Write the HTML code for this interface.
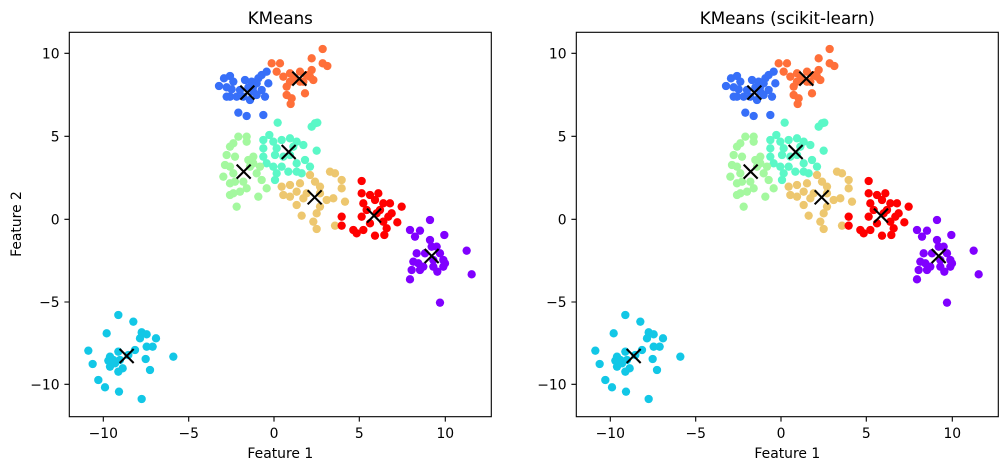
<!DOCTYPE html>
<html><head><meta charset="utf-8"><style>
html,body{margin:0;padding:0;background:#fff;}
svg{display:block;font-family:"DejaVu Sans","Liberation Sans",sans-serif;}
</style></head><body>
<svg width="1008" height="470" viewBox="0 0 1008 470" xmlns="http://www.w3.org/2000/svg">
<defs>
<g id="pts" transform="scale(0.33333)">
<g fill="#376ff8">
<circle r="12.5" cx="657" cy="258"/><circle r="12.5" cx="672" cy="235"/><circle r="12.5" cx="690" cy="228"/><circle r="12.5" cx="700" cy="245"/><circle r="12.5" cx="680" cy="262"/><circle r="12.5" cx="690" cy="290"/><circle r="12.5" cx="710" cy="290"/><circle r="12.5" cx="720" cy="270"/><circle r="12.5" cx="735" cy="240"/><circle r="12.5" cx="745" cy="262"/><circle r="12.5" cx="755" cy="245"/><circle r="12.5" cx="760" cy="275"/><circle r="12.5" cx="775" cy="235"/><circle r="12.5" cx="785" cy="225"/><circle r="12.5" cx="800" cy="215"/><circle r="12.5" cx="805" cy="250"/><circle r="12.5" cx="795" cy="290"/><circle r="12.5" cx="770" cy="285"/><circle r="12.5" cx="750" cy="300"/><circle r="12.5" cx="715" cy="338"/><circle r="12.5" cx="740" cy="348"/><circle r="12.5" cx="790" cy="345"/><circle r="12.5" cx="730" cy="290"/><circle r="12.5" cx="680" cy="290"/><circle r="12.5" cx="695" cy="268"/><circle r="12.5" cx="760" cy="260"/><circle r="12.5" cx="785" cy="270"/><circle r="12.5" cx="770" cy="250"/>
</g>
<g fill="#ff6f39">
<circle r="12.5" cx="815" cy="190"/><circle r="12.5" cx="840" cy="190"/><circle r="12.5" cx="830" cy="215"/><circle r="12.5" cx="850" cy="230"/><circle r="12.5" cx="870" cy="220"/><circle r="12.5" cx="880" cy="240"/><circle r="12.5" cx="900" cy="215"/><circle r="12.5" cx="920" cy="225"/><circle r="12.5" cx="935" cy="175"/><circle r="12.5" cx="968" cy="147"/><circle r="12.5" cx="968" cy="190"/><circle r="12.5" cx="982" cy="198"/><circle r="12.5" cx="935" cy="210"/><circle r="12.5" cx="940" cy="240"/><circle r="12.5" cx="915" cy="280"/><circle r="12.5" cx="860" cy="285"/><circle r="12.5" cx="872" cy="312"/><circle r="12.5" cx="875" cy="295"/><circle r="12.5" cx="900" cy="245"/><circle r="12.5" cx="860" cy="260"/><circle r="12.5" cx="870" cy="245"/><circle r="12.5" cx="910" cy="245"/><circle r="12.5" cx="930" cy="230"/><circle r="12.5" cx="885" cy="235"/>
</g>
<g fill="#5bf8c7">
<circle r="12.5" cx="833" cy="368"/><circle r="12.5" cx="790" cy="420"/><circle r="12.5" cx="808" cy="405"/><circle r="12.5" cx="820" cy="425"/><circle r="12.5" cx="830" cy="445"/><circle r="12.5" cx="845" cy="420"/><circle r="12.5" cx="870" cy="415"/><circle r="12.5" cx="890" cy="425"/><circle r="12.5" cx="910" cy="435"/><circle r="12.5" cx="880" cy="440"/><circle r="12.5" cx="870" cy="465"/><circle r="12.5" cx="850" cy="470"/><circle r="12.5" cx="825" cy="465"/><circle r="12.5" cx="790" cy="445"/><circle r="12.5" cx="790" cy="470"/><circle r="12.5" cx="800" cy="490"/><circle r="12.5" cx="820" cy="500"/><circle r="12.5" cx="830" cy="520"/><circle r="12.5" cx="825" cy="540"/><circle r="12.5" cx="845" cy="500"/><circle r="12.5" cx="865" cy="515"/><circle r="12.5" cx="890" cy="515"/><circle r="12.5" cx="905" cy="520"/><circle r="12.5" cx="930" cy="500"/><circle r="12.5" cx="915" cy="480"/><circle r="12.5" cx="890" cy="490"/><circle r="12.5" cx="950" cy="452"/><circle r="12.5" cx="935" cy="380"/><circle r="12.5" cx="945" cy="370"/><circle r="12.5" cx="952" cy="368"/>
</g>
<g fill="#a4f89f">
<circle r="12.5" cx="690" cy="440"/><circle r="12.5" cx="700" cy="430"/><circle r="12.5" cx="715" cy="410"/><circle r="12.5" cx="740" cy="410"/><circle r="12.5" cx="740" cy="425"/><circle r="12.5" cx="680" cy="465"/><circle r="12.5" cx="705" cy="470"/><circle r="12.5" cx="690" cy="500"/><circle r="12.5" cx="675" cy="495"/><circle r="12.5" cx="670" cy="530"/><circle r="12.5" cx="690" cy="550"/><circle r="12.5" cx="705" cy="545"/><circle r="12.5" cx="730" cy="545"/><circle r="12.5" cx="740" cy="565"/><circle r="12.5" cx="720" cy="575"/><circle r="12.5" cx="700" cy="580"/><circle r="12.5" cx="690" cy="585"/><circle r="12.5" cx="710" cy="620"/><circle r="12.5" cx="750" cy="500"/><circle r="12.5" cx="770" cy="520"/><circle r="12.5" cx="780" cy="500"/><circle r="12.5" cx="760" cy="490"/><circle r="12.5" cx="785" cy="540"/><circle r="12.5" cx="800" cy="565"/><circle r="12.5" cx="775" cy="590"/><circle r="12.5" cx="745" cy="480"/><circle r="12.5" cx="760" cy="470"/><circle r="12.5" cx="700" cy="520"/>
</g>
<g fill="#edc76f">
<circle r="12.5" cx="845" cy="560"/><circle r="12.5" cx="870" cy="555"/><circle r="12.5" cx="900" cy="550"/><circle r="12.5" cx="930" cy="525"/><circle r="12.5" cx="945" cy="545"/><circle r="12.5" cx="960" cy="560"/><circle r="12.5" cx="990" cy="515"/><circle r="12.5" cx="1005" cy="520"/><circle r="12.5" cx="1025" cy="540"/><circle r="12.5" cx="1025" cy="565"/><circle r="12.5" cx="1035" cy="605"/><circle r="12.5" cx="1000" cy="595"/><circle r="12.5" cx="980" cy="600"/><circle r="12.5" cx="960" cy="620"/><circle r="12.5" cx="950" cy="640"/><circle r="12.5" cx="940" cy="665"/><circle r="12.5" cx="950" cy="687"/><circle r="12.5" cx="1005" cy="677"/><circle r="12.5" cx="905" cy="647"/><circle r="12.5" cx="890" cy="615"/><circle r="12.5" cx="870" cy="590"/><circle r="12.5" cx="850" cy="585"/><circle r="12.5" cx="910" cy="595"/><circle r="12.5" cx="890" cy="575"/><circle r="12.5" cx="920" cy="580"/><circle r="12.5" cx="960" cy="580"/>
</g>
<g fill="#ff0000">
<circle r="12.5" cx="1085" cy="543"/><circle r="12.5" cx="1085" cy="580"/><circle r="12.5" cx="1110" cy="585"/><circle r="12.5" cx="1125" cy="600"/><circle r="12.5" cx="1135" cy="580"/><circle r="12.5" cx="1090" cy="610"/><circle r="12.5" cx="1085" cy="650"/><circle r="12.5" cx="1070" cy="700"/><circle r="12.5" cx="1090" cy="690"/><circle r="12.5" cx="1110" cy="670"/><circle r="12.5" cx="1125" cy="707"/><circle r="12.5" cx="1153" cy="705"/><circle r="12.5" cx="1160" cy="685"/><circle r="12.5" cx="1165" cy="650"/><circle r="12.5" cx="1175" cy="640"/><circle r="12.5" cx="1192" cy="667"/><circle r="12.5" cx="1205" cy="620"/><circle r="12.5" cx="1150" cy="610"/><circle r="12.5" cx="1170" cy="610"/><circle r="12.5" cx="1140" cy="630"/><circle r="12.5" cx="1025" cy="650"/><circle r="12.5" cx="1025" cy="677"/><circle r="12.5" cx="1100" cy="630"/><circle r="12.5" cx="1130" cy="640"/><circle r="12.5" cx="1060" cy="690"/><circle r="12.5" cx="1150" cy="665"/>
</g>
<g fill="#8000ff">
<circle r="12.5" cx="1230" cy="690"/><circle r="12.5" cx="1245" cy="710"/><circle r="12.5" cx="1260" cy="692"/><circle r="12.5" cx="1290" cy="660"/><circle r="12.5" cx="1290" cy="720"/><circle r="12.5" cx="1295" cy="740"/><circle r="12.5" cx="1333" cy="705"/><circle r="12.5" cx="1310" cy="740"/><circle r="12.5" cx="1240" cy="785"/><circle r="12.5" cx="1255" cy="790"/><circle r="12.5" cx="1270" cy="800"/><circle r="12.5" cx="1300" cy="780"/><circle r="12.5" cx="1330" cy="780"/><circle r="12.5" cx="1320" cy="760"/><circle r="12.5" cx="1235" cy="810"/><circle r="12.5" cx="1260" cy="810"/><circle r="12.5" cx="1300" cy="800"/><circle r="12.5" cx="1312" cy="815"/><circle r="12.5" cx="1230" cy="838"/><circle r="12.5" cx="1330" cy="800"/><circle r="12.5" cx="1335" cy="790"/><circle r="12.5" cx="1400" cy="752"/><circle r="12.5" cx="1415" cy="823"/><circle r="12.5" cx="1320" cy="908"/><circle r="12.5" cx="1275" cy="760"/><circle r="12.5" cx="1250" cy="760"/>
</g>
<g fill="#12c7e6">
<circle r="12.5" cx="355" cy="945"/><circle r="12.5" cx="400" cy="965"/><circle r="12.5" cx="320" cy="1000"/><circle r="12.5" cx="425" cy="997"/><circle r="12.5" cx="440" cy="1003"/><circle r="12.5" cx="468" cy="1015"/><circle r="12.5" cx="458" cy="1040"/><circle r="12.5" cx="440" cy="1040"/><circle r="12.5" cx="420" cy="1015"/><circle r="12.5" cx="520" cy="1070"/><circle r="12.5" cx="265" cy="1052"/><circle r="12.5" cx="278" cy="1092"/><circle r="12.5" cx="330" cy="1070"/><circle r="12.5" cx="330" cy="1100"/><circle r="12.5" cx="345" cy="1090"/><circle r="12.5" cx="355" cy="1055"/><circle r="12.5" cx="360" cy="1080"/><circle r="12.5" cx="368" cy="1105"/><circle r="12.5" cx="385" cy="1065"/><circle r="12.5" cx="405" cy="1050"/><circle r="12.5" cx="437" cy="1077"/><circle r="12.5" cx="450" cy="1110"/><circle r="12.5" cx="295" cy="1140"/><circle r="12.5" cx="315" cy="1162"/><circle r="12.5" cx="357" cy="1175"/><circle r="12.5" cx="425" cy="1197"/><circle r="12.5" cx="355" cy="1115"/><circle r="12.5" cx="340" cy="1080"/><circle r="12.5" cx="325" cy="1082"/>
</g>
<path fill="none" stroke="#000" stroke-width="6.2" d="M721 257l42 42M721 299l42-42 M877 215l42 42M877 257l42-42 M845 435l42 42M845 477l42-42 M710 494l42 42M710 536l42-42 M923 571l42 42M923 613l42-42 M1101 626l42 42M1101 668l42-42 M1274 747l42 42M1274 789l42-42 M359 1047l42 42M359 1089l42-42"/>
</g>
<g id="axes" font-size="13.9" fill="#000">
<rect x="69.3" y="32.3" width="422" height="384.4" fill="none" stroke="#000" stroke-width="1.1"/>
<path stroke="#000" stroke-width="1.1" d="M103.3 416.7v4.9M188.7 416.7v4.9M274 416.7v4.9M359.3 416.7v4.9M445.3 416.7v4.9M69.3 53.3h-4.9M69.3 136.3h-4.9M69.3 219.3h-4.9M69.3 302h-4.9M69.3 384.3h-4.9"/>
<g text-anchor="middle">
<text x="103.3" y="438">−10</text><text x="188.7" y="438">−5</text><text x="274" y="438">0</text><text x="359.3" y="438">5</text><text x="445.3" y="438">10</text>
<text x="280.3" y="458">Feature 1</text>
</g>
<g text-anchor="end">
<text x="59.6" y="58.3">10</text><text x="59.6" y="141.3">5</text><text x="59.6" y="224.3">0</text><text x="59.6" y="307">−5</text><text x="59.6" y="389.3">−10</text>
</g>
</g>
</defs>
<use href="#axes"/>
<use href="#pts"/>
<text x="280.3" y="24" font-size="16.7" text-anchor="middle">KMeans</text>
<text transform="translate(21,224) rotate(-90)" font-size="13.9" text-anchor="middle">Feature 2</text>
<use href="#axes" transform="translate(507,0)"/>
<use href="#pts" transform="translate(507,0)"/>
<text x="787.3" y="24" font-size="16.7" text-anchor="middle">KMeans (scikit-learn)</text>
</svg>
</body></html>
